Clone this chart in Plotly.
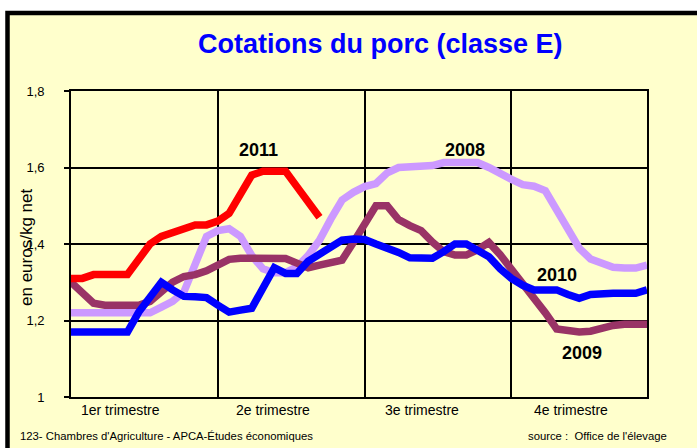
import plotly.graph_objects as go

# ---- data (weekly quotations, euros/kg net) ----
weeks = list(range(1, 53))
y2008 = [1.22, 1.22, 1.22, 1.22, 1.22, 1.22, 1.22, 1.22, 1.235, 1.25,
         1.275, 1.35, 1.42, 1.435, 1.44, 1.42, 1.37, 1.335, 1.325, 1.325,
         1.34, 1.37, 1.41, 1.465, 1.515, 1.535, 1.55, 1.558, 1.586, 1.60,
         1.603, 1.603, 1.605, 1.613, 1.613, 1.613, 1.613, 1.60, 1.583, 1.569,
         1.555, 1.551, 1.539, 1.49, 1.44, 1.389, 1.361, 1.35, 1.339, 1.337,
         1.337, 1.345]
y2009 = [1.30, 1.27, 1.245, 1.24, 1.24, 1.24, 1.24, 1.25, 1.275, 1.30,
         1.315, 1.32, 1.33, 1.345, 1.36, 1.363, 1.363, 1.363, 1.363, 1.362,
         1.35, 1.338, 1.345, 1.352, 1.358, 1.404, 1.451, 1.50, 1.50, 1.464,
         1.448, 1.435, 1.405, 1.38, 1.371, 1.371, 1.385, 1.404, 1.372, 1.335,
         1.30, 1.26, 1.22, 1.178, 1.175, 1.17, 1.172, 1.18, 1.187, 1.19,
         1.19, 1.19]
y2010 = [1.17, 1.17, 1.17, 1.17, 1.17, 1.17, 1.222, 1.262, 1.30, 1.28,
         1.263, 1.262, 1.26, 1.24, 1.222, 1.227, 1.232, 1.285, 1.338, 1.323,
         1.323, 1.355, 1.375, 1.39, 1.41, 1.413, 1.412, 1.40, 1.39, 1.378,
         1.364, 1.363, 1.363, 1.38, 1.40, 1.40, 1.385, 1.367, 1.335, 1.31,
         1.292, 1.28, 1.28, 1.28, 1.268, 1.258, 1.268, 1.271, 1.271, 1.271,
         1.271, 1.28]
y2011 = [1.31, 1.31, 1.32, 1.32, 1.32, 1.32, 1.36, 1.40, 1.42, 1.43,
         1.44, 1.45, 1.45, 1.46, 1.48, 1.53, 1.58, 1.59, 1.59, 1.59,
         1.55, 1.51, 1.47]

series_names = ["2008", "2009", "2010", "2011"]
series_values = [y2008, y2009, y2010, y2011]
series_colors = ["#CC99FF", "#993366", "#0000FF", "#FF0000"]

quarter_labels = ["1er trimestre", "2e trimestre", "3e trimestre", "4e trimestre"]
quarter_bounds = [14, 27, 40]
y_ticks = [1, 1.2, 1.4, 1.6, 1.8]
y_ticktext = ["1", "1,2", "1,4", "1,6", "1,8"]

FONT = "Liberation Sans, Arial, sans-serif"

# ---- layout geometry helpers (pixels -> paper) ----
W, H = 697, 448
L, R, T, B = 71, 647, 91, 397


def px(xp):
    return (xp - L) / (R - L)


def py(yp):
    return (B - yp) / (B - T)


fig = go.Figure()
for name, vals, col in zip(series_names, series_values, series_colors):
    fig.add_trace(go.Scatter(
        x=weeks[:len(vals)], y=vals, mode="lines", name=name,
        line=dict(color=col, width=7.5), hoverinfo="skip"))

annotations = []
annotations.append(dict(text="Cotations du porc (classe E)", x=px(380), y=py(44),
                        xref="paper", yref="paper", showarrow=False,
                        font=dict(family=FONT, size=27, color="#0000FF", weight="bold"),
                        xanchor="center", yanchor="middle"))
annotations.append(dict(text="en euros/kg net", x=px(26), y=py(248), textangle=-90,
                        xref="paper", yref="paper", showarrow=False,
                        font=dict(family=FONT, size=17, color="black"),
                        xanchor="center", yanchor="middle"))
for lab, xc in zip(quarter_labels, [120, 273, 422, 571]):
    annotations.append(dict(text=lab, x=px(xc), y=py(410), xref="paper", yref="paper",
                            showarrow=False, font=dict(family=FONT, size=14, color="black"),
                            xanchor="center", yanchor="middle"))
annotations.append(dict(text="123- Chambres d'Agriculture - APCA-Études économiques",
                        x=px(18), y=py(436), xref="paper", yref="paper", showarrow=False,
                        font=dict(family=FONT, size=11.3, color="black"),
                        xanchor="left", yanchor="middle"))
annotations.append(dict(text="source :\u00a0 Office de l'élevage",
                        x=px(669), y=py(436), xref="paper", yref="paper", showarrow=False,
                        font=dict(family=FONT, size=11.3, color="black"),
                        xanchor="right", yanchor="middle"))
for lab, xc, yc in [("2011", 258, 149.5), ("2008", 465, 149.5),
                    ("2010", 557, 274.5), ("2009", 582, 353)]:
    annotations.append(dict(text=lab, x=px(xc), y=py(yc), xref="paper", yref="paper",
                            showarrow=False,
                            font=dict(family=FONT, size=18, color="black", weight="bold"),
                            xanchor="center", yanchor="middle"))

fig.update_layout(
    width=W, height=H,
    margin=dict(l=L, r=W - R, t=T, b=H - B, pad=0),
    paper_bgcolor="white",
    plot_bgcolor="rgba(0,0,0,0)",
    showlegend=False,
    annotations=annotations,
    shapes=[dict(type="rect", xref="paper", yref="paper", layer="below",
                 x0=px(7.5), y0=py(470), x1=px(720), y1=py(13),
                 fillcolor="#FFFFCC", line=dict(color="black", width=4.5))],
    xaxis=dict(range=[1, 52], tickvals=quarter_bounds, showticklabels=False,
               ticks="", showgrid=True, gridcolor="black", gridwidth=1.8,
               showline=True, linecolor="black", linewidth=1.8, mirror=True,
               zeroline=False, fixedrange=True),
    yaxis=dict(range=[1, 1.8], tickvals=y_ticks, ticktext=y_ticktext,
               ticks="outside", ticklen=5, tickcolor="black", tickwidth=1.8,
               ticklabelstandoff=17,
               tickfont=dict(family=FONT, size=13, color="black"),
               showgrid=True, gridcolor="black", gridwidth=1.8,
               showline=True, linecolor="black", linewidth=1.8, mirror=True,
               zeroline=False, fixedrange=True),
)

fig.write_html(
    "out.html",
    config={"displayModeBar": False},
    post_script=("document.body.style.margin='0';"
                 "document.body.style.overflow='hidden';"
                 "document.documentElement.style.overflow='hidden';"),
)
